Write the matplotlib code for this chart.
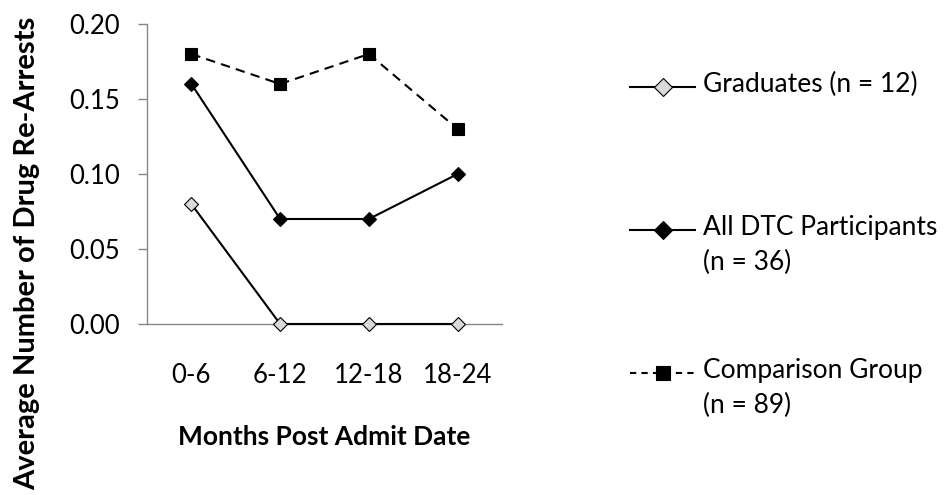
import matplotlib
matplotlib.use("Agg")
import matplotlib.pyplot as plt
from matplotlib.lines import Line2D
from matplotlib.ticker import FormatStrFormatter

plt.rcParams['font.family'] = ['Lato', 'DejaVu Sans']

periods = ["0-6", "6-12", "12-18", "18-24"]
graduates = [0.08, 0.00, 0.00, 0.00]
all_dtc = [0.16, 0.07, 0.07, 0.10]
comparison = [0.18, 0.16, 0.18, 0.13]
labels = ["Graduates (n = 12)", "All DTC Participants\n(n = 36)", "Comparison Group\n(n = 89)"]

W, H = 947, 495
fig = plt.figure(figsize=(W / 100, H / 100), dpi=100)
ax = fig.add_axes([147 / W, 1 - 324 / H, (502 - 147) / W, 300 / H])

x = list(range(len(periods)))
styles = [
    dict(color="black", lw=1.5, ls="-", marker="D", ms=7.5, mfc="#d9d9d9", mec="black", mew=0.8),
    dict(color="black", lw=1.5, ls="-", marker="D", ms=7.5, mfc="black", mec="black", mew=0.8),
    dict(color="black", lw=1.5, ls=(0, (4.5, 3)), marker="s", ms=8.5, mfc="black", mec="black", mew=0.8),
]
for vals, st in zip([graduates, all_dtc, comparison], styles):
    ax.plot(x, vals, zorder=3, clip_on=False, **st)

ax.set_xlim(-0.5, len(periods) - 0.5)
ax.set_ylim(0, 0.20)
ax.set_yticks([0.00, 0.05, 0.10, 0.15, 0.20])
ax.yaxis.set_major_formatter(FormatStrFormatter('%.2f'))
ax.set_xticks(x)
ax.set_xticklabels(periods)

axis_grey = "#868686"
for side in ["top", "right"]:
    ax.spines[side].set_visible(False)
for side in ["left", "bottom"]:
    ax.spines[side].set_color(axis_grey)
    ax.spines[side].set_linewidth(1.0)
ax.tick_params(axis="y", direction="out", length=6.5, width=1.0, color=axis_grey,
               labelsize=18.5, pad=13)
ax.tick_params(axis="x", length=0, labelsize=18.5, pad=28)

ax.set_xlabel("Months Post Admit Date", fontsize=19, fontweight="bold", labelpad=27)
fig.text(27 / W, 1 - 253 / H, "Average Number of Drug Re-Arrests", rotation=90, fontsize=21,
         fontweight="bold", ha="center", va="center")

# Legend entries laid out down the right-hand side
rows = [87, 230, 373]
legend_styles = [
    dict(ls="-", ms=9),
    dict(ls="-", ms=9),
    dict(ls=(0, (3, 2.5)), ms=10),
]
for lab, st, lst, yp in zip(labels, styles, legend_styles, rows):
    yf = 1 - yp / H
    fig.add_artist(Line2D([630 / W, 695 / W], [yf, yf], transform=fig.transFigure,
                          color=st["color"], lw=st["lw"], ls=lst["ls"]))
    fig.add_artist(Line2D([663 / W], [yf], transform=fig.transFigure, ls="none",
                          marker=st["marker"], ms=lst["ms"], mfc=st["mfc"],
                          mec=st["mec"], mew=st["mew"]))
    fig.text(703 / W, yf + 15 / H, lab, fontsize=19,
             ha="left", va="top", linespacing=1.5)

fig.savefig("out.png", dpi=100)
